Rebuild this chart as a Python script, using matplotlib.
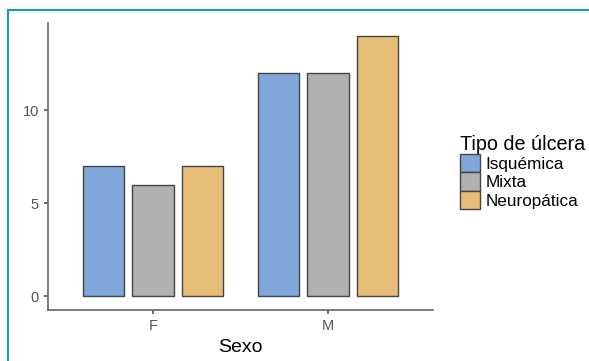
import numpy as np
import matplotlib.pyplot as plt
from matplotlib.patches import Rectangle, Patch

plt.rcParams['font.family'] = ['Liberation Sans', 'DejaVu Sans']

sexo = ['F', 'M']
tipos = ['Isquémica', 'Mixta', 'Neuropática']
valores = {
    'Isquémica': [7, 12],
    'Mixta': [6, 12],
    'Neuropática': [7, 14],
}
colores = ['#7fa7d7', '#aeb0b1', '#e6be78']

fig = plt.figure(figsize=(5.89, 3.61), dpi=100)
ax = fig.add_axes([48 / 589, 51 / 361, 385 / 589, 287 / 361])

x = np.arange(1, len(sexo) + 1)
paso, ancho = 0.283, 0.235
for i, (t, c) in enumerate(zip(tipos, colores)):
    ax.bar(x + (i - 1) * paso, valores[t], width=ancho, color=c,
           edgecolor='#454545', linewidth=1.0)

ax.set_xlim(0.4, 2.6)
ax.set_ylim(-0.75, 14.7)
ax.set_xticks(x)
ax.set_xticklabels(sexo)
ax.set_yticks([0, 5, 10])
for s in ['top', 'right']:
    ax.spines[s].set_visible(False)
for s in ['left', 'bottom']:
    ax.spines[s].set_color('#666666')
    ax.spines[s].set_linewidth(1.2)
ax.tick_params(colors='#555555', labelsize=10.5, length=3, width=1.2)
ax.set_xlabel('Sexo', fontsize=14, labelpad=4)

handles = [Patch(facecolor=c, edgecolor='#454545', label=t)
           for t, c in zip(tipos, colores)]
fig.legend(handles=handles, title='Tipo de úlcera', loc='upper left',
           bbox_to_anchor=(451 / 589, 1 - 126 / 361), frameon=False,
           fontsize=12.3, title_fontsize=14.2, handlelength=1.2,
           handleheight=1.3, handletextpad=0.3, labelspacing=0.0,
           borderpad=0, alignment='left')

fig.add_artist(Rectangle((7.5 / 589, -0.1), 1.1, 1 - 9.5 / 361 + 0.1,
                         transform=fig.transFigure, fill=False,
                         edgecolor='#1c9bab', linewidth=1.5))

fig.savefig('out.png', dpi=100)
